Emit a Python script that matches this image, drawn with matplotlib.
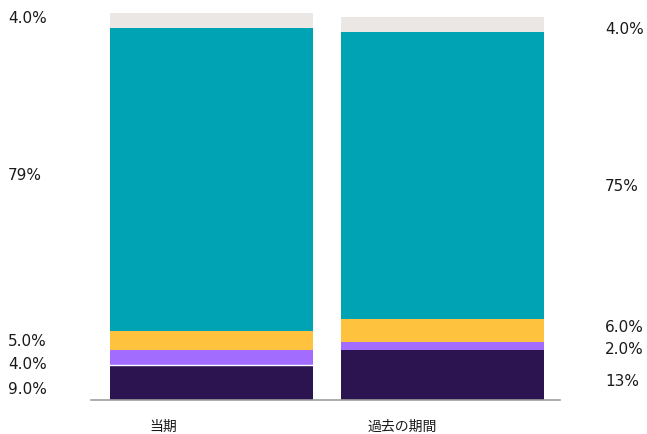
import numpy as np
from matplotlib import pyplot as plt
import matplotlib.transforms as mtransforms

plt.rcParams['font.family'] = ['DejaVu Sans', 'Noto Sans CJK JP']

# Periods and segment shares (%), bottom to top
periods = ['当期', '過去の期間']
dark = [9.0, 13]
purple = [4.0, 2.0]
yellow = [5.0, 6.0]
teal = [79, 75]
grey = [4.0, 4.0]
labels_left = ['9.0%', '4.0%', '5.0%', '79%', '4.0%']
labels_right = ['13%', '2.0%', '6.0%', '75%', '4.0%']

colors = ['#2C1450', '#A26DFF', '#FFC23F', '#00A3B3', '#EBE7E4']
series = [dark, purple, yellow, teal, grey]

W, H = 647, 435
fig = plt.figure(figsize=(W / 100, H / 100), dpi=100)
ax = fig.add_axes([91 / W, (H - 400.5) / H, (560 - 91) / W, (400.5 - 14) / H])

x = np.arange(len(periods))
bottom = np.zeros(len(periods))
for vals, c in zip(series, colors):
    ax.bar(x, vals, width=0.879, bottom=bottom, color=c)
    bottom += np.array(vals)

ax.set_xlim(-0.522, 1.509)
ax.set_ylim(0, bottom.max())

for s in ['top', 'right', 'left']:
    ax.spines[s].set_visible(False)
ax.spines['bottom'].set_color('#9E9E9E')
ax.spines['bottom'].set_linewidth(1.2)
ax.set_xticks([])
ax.set_yticks([])

# thin white gap between the two lowest segments of the first bar
ax.plot([-0.4395, 0.4395], [dark[0], dark[0]], color='white', lw=1)

# side labels: x in figure pixels, y in data units
tr = mtransforms.blended_transform_factory(
    mtransforms.Affine2D().scale(1 / W, 1) + fig.transFigure, ax.transData)

nudges = [[-1.6, -1.6, 0.0, 1.4, 0.7],
          [-1.5, -0.6, 1.1, -2.5, -1.1]]
for i, (labs, px) in enumerate([(labels_left, 8), (labels_right, 605)]):
    vals = np.array([s[i] for s in series])
    mids = np.cumsum(vals) - vals / 2
    for yv, lab, d in zip(mids, labs, nudges[i]):
        ax.text(px, yv + d, lab, transform=tr, fontsize=11,
                ha='left', va='center', color='#1a1a1a')

# period names under the bars
for xi, p in zip([-0.21, 0.825], periods):
    ax.text(xi, -7.0, p, fontsize=10, ha='center', va='center',
            color='#1a1a1a', family=['Noto Sans CJK JP', 'DejaVu Sans'])

fig.savefig('out.png', dpi=100)
